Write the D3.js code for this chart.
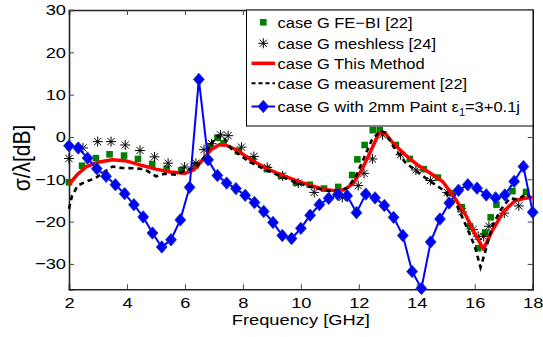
<!DOCTYPE html>
<html>
<head>
<meta charset="utf-8">
<script src="https://cdn.jsdelivr.net/npm/d3@7"></script>
<style>
  body { margin: 0; background: #fff; }
  svg { display: block; }
  text { font-family: "Liberation Sans", Arial, sans-serif; fill: #000; }
</style>
</head>
<body>
<div id="chart"></div>
<script>
// case G FE-BI [22] (green squares)
const feFreq = [2.0, 2.45, 2.93, 3.4, 3.9, 4.38, 4.87, 5.37, 5.87, 6.37, 6.86, 7.12, 7.33, 7.83, 8.34, 8.83, 9.32, 9.83,
  10.31, 10.8, 11.29, 11.77, 11.95, 12.2, 12.48, 12.72, 13.28, 13.76, 14.24, 14.73, 15.23, 15.55, 15.83, 16.12,
  16.36, 16.55, 16.75, 17.3, 17.77];
const feVal = [-10.7, -6.8, -5.0, -4.1, -4.4, -5.2, -6.4, -7.5, -7.9, -6.7, -2.3, -0.2, -1.5, -3.4, -5.6, -7.6, -9.2, -10.8,
  -11.3, -12.2, -11.8, -9.0, -5.3, -1.9, 1.6, 1.6, -1.9, -5.2, -7.6, -9.6, -13.3, -16.6, -21.1, -26.3,
  -22.6, -19.0, -16.0, -12.8, -13.0];

// case G meshless [24] (asterisks)
const mlFreq = [2.0, 2.48, 2.99, 3.45, 3.94, 4.45, 4.95, 5.42, 5.99, 6.38, 6.66, 6.92, 7.23, 7.49, 7.95, 8.38, 8.84, 9.37,
  9.91, 10.46, 11.43, 11.98, 12.18, 12.47, 12.82, 13.44, 13.97, 14.47, 15.05, 15.56, 15.94, 16.12, 16.31, 16.49,
  17.02, 17.52];
const mlVal = [-5.1, -2.6, -1.1, -1.1, -1.9, -3.2, -4.7, -6.2, -7.1, -6.2, -3.0, -1.6, 0.5, 0.3, -2.4, -4.6, -7.2, -9.2,
  -10.9, -13.1, -14.3, -11.5, -8.6, -5.2, 0.5, -4.2, -7.8, -10.3, -13.1, -17.7, -21.9, -23.5, -23.5, -21.1,
  -18.0, -16.3];

// case G This Method (red line)
const tmFreq = [2.0, 2.3, 2.6, 3.0, 3.5, 4.0, 4.5, 5.0, 5.5, 6.0, 6.3, 6.6, 6.9, 7.2, 7.4, 7.8, 8.3, 8.8, 9.3, 9.8,
  10.3, 10.8, 11.2, 11.5, 11.8, 12.1, 12.4, 12.7, 12.9, 13.2, 13.6, 14.0, 14.5, 14.9, 15.3, 15.7, 16.0, 16.3,
  16.6, 17.0, 17.4, 17.8, 18.0];
const tmVal = [-11.2, -8.8, -7.0, -6.0, -5.4, -5.7, -6.7, -7.6, -8.3, -8.6, -7.8, -5.5, -3.0, -1.8, -1.9, -3.1, -5.5, -7.4, -8.9, -10.2,
  -11.4, -12.4, -12.7, -12.5, -11.0, -7.8, -3.5, 1.0, 1.0, -1.6, -4.2, -6.5, -8.7, -10.6, -14.3, -18.6, -22.8, -26.5,
  -22.2, -17.6, -15.0, -14.4, -14.3];

// case G measurement [22] (black dashed)
const msFreq = [2.0, 2.1, 2.3, 2.6, 2.9, 3.2, 3.5, 3.8, 4.2, 4.6, 5.0, 5.3, 5.7, 6.0, 6.4, 6.65, 6.9, 7.1, 7.3, 7.6,
  8.2, 8.8, 9.3, 9.9, 10.5, 11.1, 11.6, 11.9, 12.2, 12.45, 12.75, 12.9, 13.2, 13.6, 14.3, 14.9, 15.4, 15.7,
  16.0, 16.2, 16.35, 16.6, 16.9, 17.2, 17.5, 17.8, 18.0];
const msVal = [-17.0, -14.0, -11.5, -10.5, -9.8, -8.3, -7.0, -7.3, -7.4, -7.6, -9.3, -8.7, -8.9, -8.0, -7.0, -5.0, -1.6, 0.0, 0.3, -2.8,
  -5.8, -7.8, -9.3, -10.9, -12.1, -12.9, -12.1, -9.3, -4.6, -0.7, 1.5, 1.0, -2.3, -6.0, -9.7, -12.5, -16.4, -21.0,
  -25.8, -30.8, -27.4, -21.1, -17.2, -14.5, -14.8, -13.3, -15.0];

// case G with 2mm Paint (blue diamonds)
const ptFreq = [2.00, 2.32, 2.64, 2.96, 3.28, 3.60, 3.92, 4.24, 4.56, 4.88, 5.20, 5.52, 5.84, 6.16, 6.48, 6.80, 7.12,
  7.44, 7.76, 8.08, 8.40, 8.72, 9.04, 9.36, 9.68, 10.00, 10.32, 10.64, 10.96, 11.28, 11.60, 11.92, 12.24,
  12.56, 12.88, 13.20, 13.52, 13.84, 14.16, 14.48, 14.80, 15.12, 15.44, 15.76, 16.08, 16.40, 16.72, 17.04,
  17.36, 17.68, 18.00];
const ptVal = [-2.1, -2.6, -5.0, -7.5, -9.3, -11.3, -13.4, -16.0, -18.9, -22.7, -26.0, -24.3, -19.6, -11.9, 13.6, -5.4, -9.1,
  -10.9, -12.2, -13.8, -15.5, -17.6, -20.2, -23.3, -24.0, -21.6, -18.5, -16.0, -14.5, -13.6, -13.9, -17.9, -13.5,
  -14.4, -16.2, -19.0, -23.3, -31.8, -35.8, -24.8, -19.4, -15.6, -12.6, -11.3, -12.1, -13.7, -14.4, -13.7,
  -10.5, -7.0, -17.8];

const xTicks = [2, 4, 6, 8, 10, 12, 14, 16, 18];
const yTicks = [-30, -20, -10, 0, 10, 20, 30];
const legendLabels = ["case G FE\u2212BI [22]", "case G meshless [24]", "case G This Method",
  "case G measurement [22]", "case G with 2mm Paint \u03b5"];

const W = 543, H = 337;
const margin = {top: 10, right: 10.3, bottom: 47.7, left: 69};
const sx = 1.18; // glyphs in the picture are wider than tall

const svg = d3.select("#chart").append("svg").attr("width", W).attr("height", H);

const x = d3.scaleLinear().domain([2, 18]).range([margin.left, W - margin.right]);
const y = d3.scaleLinear().domain([-36, 30]).range([H - margin.bottom, margin.top]);

const zip = (a, b) => a.map((v, i) => [v, b[i]]);

// axes (MATLAB box, ticks inward)
const fmt = d => d3.format("")(d);
const gx = svg.append("g").attr("transform", `translate(0,${y(-36)})`)
  .call(d3.axisBottom(x).tickValues(xTicks).tickSize(-5).tickPadding(8).tickFormat(fmt));
const gxt = svg.append("g").attr("transform", `translate(0,${y(30)})`)
  .call(d3.axisTop(x).tickValues(xTicks).tickSize(-5).tickFormat(""));
const gy = svg.append("g").attr("transform", `translate(${x(2)},0)`)
  .call(d3.axisLeft(y).tickValues(yTicks).tickSize(-5).tickPadding(3).tickFormat(fmt));
const gyr = svg.append("g").attr("transform", `translate(${x(18)},0)`)
  .call(d3.axisRight(y).tickValues(yTicks).tickSize(-5).tickFormat(""));

[gx, gxt, gy, gyr].forEach(g => {
  g.select(".domain").attr("stroke", "#222").attr("stroke-width", 1.6);
  g.selectAll(".tick line").attr("stroke", "#444").attr("stroke-width", 1);
});
gx.selectAll(".tick text").attr("font-size", 15.5)
  .attr("transform", `scale(${sx},1)`);
gy.selectAll(".tick text").attr("font-size", 15.5)
  .attr("x", -3 / sx).attr("transform", `scale(${sx},1)`);

// axis titles
svg.append("text")
  .attr("transform", `translate(${(x(2) + x(18)) / 2},325) scale(${sx},1)`)
  .attr("text-anchor", "middle").attr("font-size", 15.5)
  .text("Frequency [GHz]");
svg.append("text")
  .attr("transform", `translate(30,158) rotate(-90) scale(1,${sx})`)
  .attr("text-anchor", "middle").attr("font-size", 21)
  .text("\u03c3/\u03bb[dB]");

// marker shapes
const squarePath = s => `M${-s},${-s}H${s}V${s}H${-s}Z`;
const starPath = s => {
  const d = s * 0.72;
  return `M${-s},0H${s}M0,${-s}V${s}M${-d},${-d}L${d},${d}M${-d},${d}L${d},${-d}`;
};
const diamondPath = (w, h) => `M0,${-h}L${w},0L0,${h}L${-w},0Z`;

const plot = svg.append("g");

// FE-BI squares
plot.selectAll(".fe").data(zip(feFreq, feVal)).join("path")
  .attr("transform", d => `translate(${x(d[0])},${y(d[1])})`)
  .attr("d", squarePath(3.3)).attr("fill", "#008000").attr("stroke", "none");

// meshless asterisks
plot.selectAll(".ml").data(zip(mlFreq, mlVal)).join("path")
  .attr("transform", d => `translate(${x(d[0])},${y(d[1])})`)
  .attr("d", starPath(5)).attr("fill", "none").attr("stroke", "#000").attr("stroke-width", 1);

const line = d3.line().x(d => x(d[0])).y(d => y(d[1]));

// This Method
plot.append("path").datum(zip(tmFreq, tmVal))
  .attr("d", line).attr("fill", "none").attr("stroke", "#ff0000")
  .attr("stroke-width", 3.5).attr("stroke-linejoin", "round");

// measurement
plot.append("path").datum(zip(msFreq, msVal))
  .attr("d", line).attr("fill", "none").attr("stroke", "#000")
  .attr("stroke-width", 2.6).attr("stroke-dasharray", "5,4");

// paint
plot.append("path").datum(zip(ptFreq, ptVal))
  .attr("d", line).attr("fill", "none").attr("stroke", "#0000ff").attr("stroke-width", 2);
plot.selectAll(".pt").data(zip(ptFreq, ptVal)).join("path")
  .attr("transform", d => `translate(${x(d[0])},${y(d[1])})`)
  .attr("d", diamondPath(5.4, 6.2)).attr("fill", "#0000ff").attr("stroke", "#1a3aa8").attr("stroke-width", 0.9);

// legend
const lg = svg.append("g");
lg.append("rect").attr("x", 246.5).attr("y", 10).attr("width", 286.5).attr("height", 116)
  .attr("fill", "#fff").attr("stroke", "#000").attr("stroke-width", 1);
const rowY = [22.3, 43.3, 63.3, 83.3, 106.5];
const sx0 = 251.5, sx1 = 275, sxm = 263.3, tx = 277.5;
lg.append("path").attr("transform", `translate(${sxm},${rowY[0]})`)
  .attr("d", squarePath(3.3)).attr("fill", "#008000");
lg.append("path").attr("transform", `translate(${sxm},${rowY[1]})`)
  .attr("d", starPath(5)).attr("fill", "none").attr("stroke", "#000");
lg.append("line").attr("x1", sx0).attr("x2", sx1).attr("y1", rowY[2]).attr("y2", rowY[2])
  .attr("stroke", "#ff0000").attr("stroke-width", 3.5);
lg.append("line").attr("x1", sx0).attr("x2", sx1).attr("y1", rowY[3]).attr("y2", rowY[3])
  .attr("stroke", "#000").attr("stroke-width", 2).attr("stroke-dasharray", "4,3");
lg.append("line").attr("x1", sx0).attr("x2", sx1).attr("y1", rowY[4]).attr("y2", rowY[4])
  .attr("stroke", "#0000ff").attr("stroke-width", 2);
lg.append("path").attr("transform", `translate(${sxm},${rowY[4]})`)
  .attr("d", diamondPath(5.4, 6.2)).attr("fill", "#0000ff").attr("stroke", "#1a3aa8").attr("stroke-width", 0.9);

const lsx = 1.1;
legendLabels.forEach((t, i) => {
  const txt = lg.append("text")
    .attr("transform", `translate(${tx},${rowY[i] + 5.5}) scale(${lsx},1)`)
    .attr("font-size", 15).text(t);
  if (i === 4) {
    txt.append("tspan").attr("font-size", 10).attr("dy", 4).text("1");
    txt.append("tspan").attr("dy", -4).text("=3+0.1j");
  }
});
</script>
</body>
</html>
